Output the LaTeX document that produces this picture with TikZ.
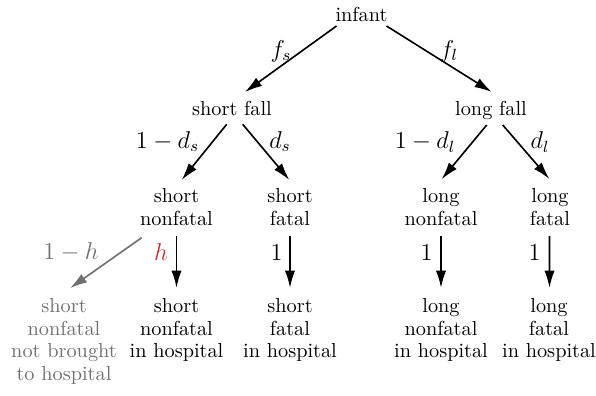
\documentclass[tikz,border=0pt]{standalone}
\usetikzlibrary{arrows.meta,calc}
\definecolor{myred}{RGB}{205,45,50}
\definecolor{mygray}{RGB}{112,112,112}
\begin{document}
\begin{tikzpicture}[x=0.4926pt,y=-0.4926pt,
  txt/.style={inner sep=0pt,align=center,font=\fontsize{10}{11.3}\selectfont},
  lbl/.style={inner sep=0pt,font=\fontsize{12}{14}\selectfont},
  arr/.style={-{Latex[length=8.5pt,width=5pt]},line width=0.8pt},
  grey/.style={mygray}]
\useasboundingbox (0,0) rectangle (596,395);
% level 0 and 1
\node[txt,anchor=base] (infant) at (361.5,21.5) {infant};
\node[txt,anchor=base] (sfall) at (232,115.5) {short fall};
\node[txt,anchor=base] (lfall) at (491,115.5) {long fall};
% level 2
\node[txt,anchor=north] (snf) at (176.5,187.9) {short\\nonfatal};
\node[txt,anchor=north] (sft) at (290,187.9) {short\\fatal};
\node[txt,anchor=north] (lnf) at (441,187.9) {long\\nonfatal};
\node[txt,anchor=north] (lft) at (550,187.9) {long\\fatal};
% level 3
\node[txt,anchor=north,text=mygray] (snb) at (64,297.6) {short\\nonfatal\\not brought\\to hospital};
\node[txt,anchor=north] (snh) at (176.5,297.6) {short\\nonfatal\\in hospital};
\node[txt,anchor=north] (sfh) at (290,297.6) {short\\fatal\\in hospital};
\node[txt,anchor=north] (lnh) at (441,297.6) {long\\nonfatal\\in hospital};
\node[txt,anchor=north] (lfh) at (549,297.6) {long\\fatal\\in hospital};
% edges
\draw[arr] ($(infant.base)+(-25,4.5)$) -- ($(sfall.north)+(13,-8.8)$);
\draw[arr] ($(infant.base)+(25,4.5)$) -- ($(lfall.north)+(0.7,-8.8)$);
\draw[arr] ($(sfall.base)+(-5.3,8.8)$) -- ($(snf.north)+(5.2,-8)$);
\draw[arr] ($(sfall.base)+(10.7,8.8)$) -- ($(sft.north)+(-0.7,-8)$);
\draw[arr] ($(lfall.base)+(-4.3,9.5)$) -- ($(lnf.north)+(0.7,-8.7)$);
\draw[arr] ($(lfall.base)+(11.7,9.5)$) -- ($(lft.north)+(-0.7,-9)$);
\draw[arr,draw=mygray,fill=mygray] ($(snf.south)+(-34.8,11.7)$) -- ($(snb.north)+(6,-9.4)$);
\draw[arr] ($(snf.south)+(0,10)$) -- ($(snh.north)+(0,-9.7)$);
\draw[arr] ($(sft.south)+(0,10)$) -- ($(sfh.north)+(0,-9.7)$);
\draw[arr] ($(lnf.south)+(0,10)$) -- ($(lnh.north)+(0,-9.7)$);
\draw[arr] ($(lft.south)+(-0.5,10)$) -- ($(lfh.north)+(0.5,-9.7)$);
% labels
\node[lbl] (lfs) at (281,51) {$f_s$};
\node[lbl] (lfl) at (449,51) {$f_l$};
\node[lbl] (l1ds) at (167.5,141.5) {$1-d_s$};
\node[lbl] (lds) at (280,141.5) {$d_s$};
\node[lbl] (l1dl) at (425,142) {$1-d_l$};
\node[lbl] (ldl) at (540,142) {$d_l$};
\node[lbl,text=mygray] (l1h) at (71,252.5) {$1-h$};
\node[lbl,text=myred] (lh) at (161,252.5) {$h$};
\node[lbl] (lone1) at (276.7,252.5) {$1$};
\node[lbl] (lone2) at (426.7,252.5) {$1$};
\node[lbl] (lone3) at (534.7,252.5) {$1$};
\end{tikzpicture}
\end{document}
